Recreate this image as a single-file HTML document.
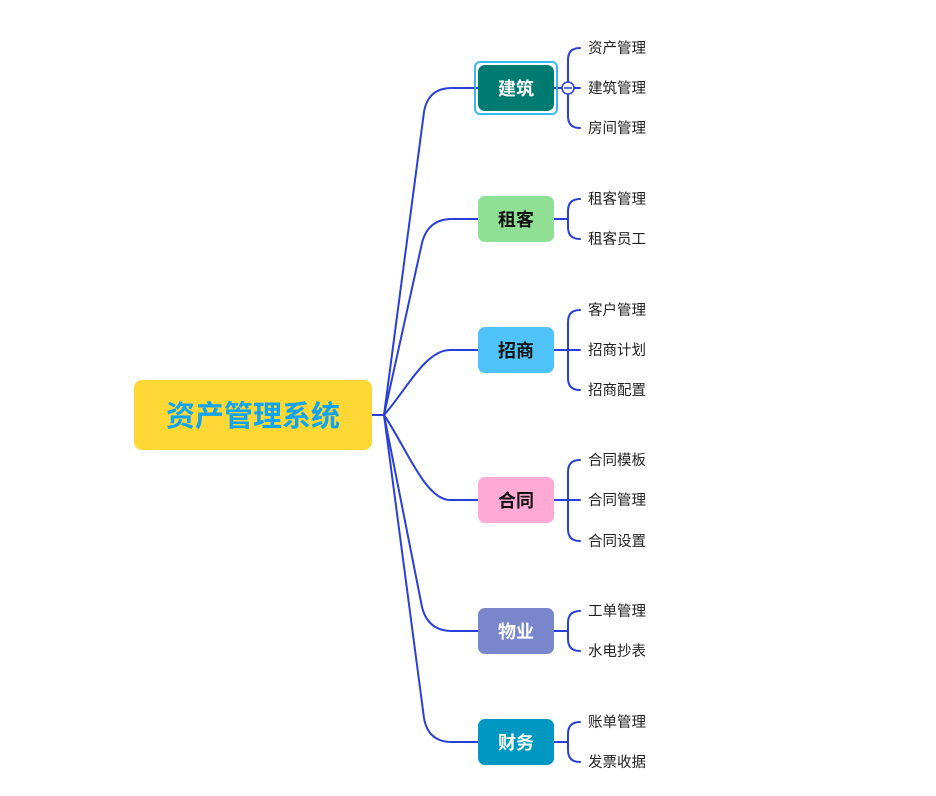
<!DOCTYPE html>
<html><head><meta charset="utf-8"><style>
html,body{margin:0;padding:0;background:#fff;}
svg{display:block;}
text{font-family:"Liberation Sans","Noto Sans CJK SC",sans-serif;}
</style></head><body>
<svg width="936" height="796" viewBox="0 0 936 796" xmlns="http://www.w3.org/2000/svg">
<g fill="none" stroke="#2a3fd8" stroke-width="2" stroke-linecap="round">
<path d="M372 415 H384"/>
<path d="M384 415 L424 112 Q428 88 452 88 H478"/>
<path d="M384 415 L422 243 Q428 219 452 219 H478"/>
<path d="M384 415 C405 392 425 350 450 350 H478"/>
<path d="M384 415 C405 445 425 500 450 500 H478"/>
<path d="M384 415 L422 607 Q428 631 452 631 H478"/>
<path d="M384 415 L424 718 Q428 742 452 742 H478"/>
<path d="M554 88 H568 M580 48 Q568 48 568 60 V116 Q568 128 580 128 M568 88 H580"/>
<path d="M554 219 H568 M580 199 Q568 199 568 211 V227 Q568 239 580 239"/>
<path d="M554 350 H568 M580 310 Q568 310 568 322 V378 Q568 390 580 390 M568 350 H580"/>
<path d="M554 500 H568 M580 460 Q568 460 568 472 V529 Q568 541 580 541 M568 500 H580"/>
<path d="M554 631 H568 M580 611 Q568 611 568 623 V639 Q568 651 580 651"/>
<path d="M554 742 H568 M580 722 Q568 722 568 734 V750 Q568 762 580 762"/>
</g>
<rect x="134" y="380" width="238" height="70" rx="8" fill="#fdd835"/>
<text x="253" y="426" font-size="29" font-weight="bold" fill="#10a4ee" text-anchor="middle">资产管理系统</text>
<rect x="475" y="62" width="82" height="52" rx="5" fill="none" stroke="#3bb8f2" stroke-width="2"/>
<rect x="478" y="65" width="76" height="46" rx="7" fill="#007b71"/>
<rect x="478" y="196" width="76" height="46" rx="7" fill="#8fdf94"/>
<rect x="478" y="327" width="76" height="46" rx="7" fill="#4fc3f7"/>
<rect x="478" y="477" width="76" height="46" rx="7" fill="#ffaad5"/>
<rect x="478" y="608" width="76" height="46" rx="7" fill="#7986cb"/>
<rect x="478" y="719" width="76" height="46" rx="7" fill="#0098c0"/>
<g font-size="18" font-weight="bold" text-anchor="middle">
<text x="516" y="95" fill="#fff">建筑</text>
<text x="516" y="226" fill="#111">租客</text>
<text x="516" y="357" fill="#111">招商</text>
<text x="516" y="507" fill="#111">合同</text>
<text x="516" y="638" fill="#fff">物业</text>
<text x="516" y="749" fill="#fff">财务</text>
</g>
<circle cx="568" cy="88" r="6" fill="#fff" stroke="#2a3fd8" stroke-width="1.5"/>
<path d="M564 88 H572" stroke="#2a3fd8" stroke-width="1.5"/>
<g font-size="14.5" fill="#222">
<text x="588" y="53">资产管理</text>
<text x="588" y="93">建筑管理</text>
<text x="588" y="133">房间管理</text>
<text x="588" y="204">租客管理</text>
<text x="588" y="244">租客员工</text>
<text x="588" y="315">客户管理</text>
<text x="588" y="355">招商计划</text>
<text x="588" y="395">招商配置</text>
<text x="588" y="465">合同模板</text>
<text x="588" y="505">合同管理</text>
<text x="588" y="546">合同设置</text>
<text x="588" y="616">工单管理</text>
<text x="588" y="656">水电抄表</text>
<text x="588" y="727">账单管理</text>
<text x="588" y="767">发票收据</text>
</g>
</svg>
</body></html>
